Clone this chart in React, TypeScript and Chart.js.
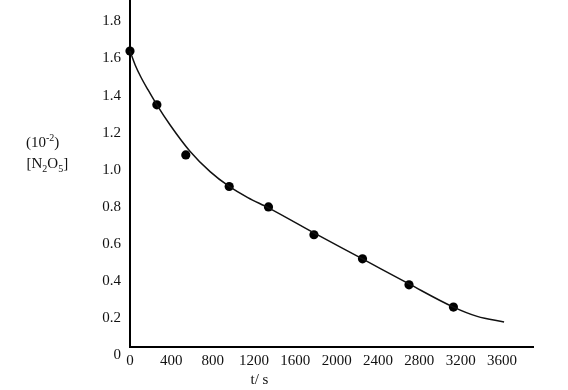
import React, { useEffect, useRef } from 'react';
import { Chart, registerables } from 'chart.js';

Chart.register(...registerables);

// Tick values and labels
const timeTicks = [0, 400, 800, 1200, 1600, 2000, 2400, 2800, 3200, 3600];
const timeTickLabels = ['0', '400', '800', '1200', '1600', '2000', '2400', '2800', '3200', '3600'];
const concTicks = [0, 0.2, 0.4, 0.6, 0.8, 1.0, 1.2, 1.4, 1.6, 1.8];
const concTickLabels = ['0', '0.2', '0.4', '0.6', '0.8', '1.0', '1.2', '1.4', '1.6', '1.8'];

// Measured points: t (s) and [N2O5] (10^-2 mol/L)
const measuredTime = [0, 260, 540, 960, 1340, 1780, 2250, 2700, 3130];
const measuredConc = [1.64, 1.35, 1.08, 0.91, 0.8, 0.65, 0.52, 0.38, 0.26];

// Smooth fitted curve
const curveTime = [0, 50, 105, 175, 260, 390, 580, 775, 960, 1140, 1340, 1780, 2250, 2700, 3130, 3360, 3620];
const curveConc = [1.64, 1.565, 1.5, 1.43, 1.35, 1.24, 1.1, 0.99, 0.91, 0.85, 0.795, 0.66, 0.52, 0.385, 0.26, 0.21, 0.18];

const FONT = '"Liberation Serif", "Times New Roman", serif';

const textPlugin = {
  id: 'axisTexts',
  afterDraw(chart: any) {
    const ctx = chart.ctx as CanvasRenderingContext2D;
    ctx.save();
    ctx.fillStyle = '#111';
    ctx.textBaseline = 'alphabetic';
    ctx.textAlign = 'left';
    const big = `15px ${FONT}`;
    const small = `10px ${FONT}`;
    const run = (parts: [string, string, number][], x: number, y: number) => {
      let cx = x;
      for (const [txt, kind, dy] of parts) {
        ctx.font = kind === 'b' ? big : small;
        ctx.fillText(txt, cx, y + dy);
        cx += ctx.measureText(txt).width;
      }
    };
    run([['(10', 'b', 0], ['-2', 's', -6], [')', 'b', 0]], 26, 146.5);
    run([['[N', 'b', 0], ['2', 's', 4], ['O', 'b', 0], ['5', 's', 4], [']', 'b', 0]], 26.5, 168);
    ctx.font = big;
    ctx.textAlign = 'center';
    ctx.fillText('t/ s', 259.5, 384);
    ctx.restore();
  },
};

export default function App() {
  const ref = useRef<HTMLCanvasElement | null>(null);

  useEffect(() => {
    document.body.style.margin = '0';
    if (!ref.current) return;
    Chart.defaults.font.family = FONT;
    const chart = new Chart(ref.current, {
      type: 'scatter',
      data: {
        datasets: [
          {
            label: 'curve',
            data: curveTime.map((t, i) => ({ x: t, y: curveConc[i] })),
            showLine: true,
            borderColor: '#111',
            borderWidth: 1.5,
            pointRadius: 0,
            cubicInterpolationMode: 'monotone',
            clip: false,
          } as any,
          {
            label: 'measured',
            data: measuredTime.map((t, i) => ({ x: t, y: measuredConc[i] })),
            showLine: false,
            pointRadius: 4.6,
            pointBackgroundColor: '#000',
            pointBorderColor: '#000',
            pointBorderWidth: 0,
            clip: false,
          } as any,
        ],
      },
      options: {
        animation: false,
        responsive: false,
        layout: { autoPadding: false, padding: { left: 0, top: 0, right: 35, bottom: 0 } },
        plugins: {
          legend: { display: false },
          tooltip: { enabled: false },
          title: { display: false },
        },
        scales: {
          x: {
            type: 'linear',
            min: 0,
            max: 3900,
            grid: { display: false, drawTicks: false },
            border: { display: true, color: '#000', width: 2 },
            afterBuildTicks: (axis: any) => {
              axis.ticks = timeTicks.map((value) => ({ value }));
            },
            afterFit: (s: any) => {
              s.height = 43;
              s.paddingLeft = 0;
              s.paddingRight = 0;
            },
            ticks: {
              autoSkip: false,
              maxRotation: 0,
              padding: 5,
              color: '#111',
              font: { size: 15, family: FONT },
              callback: (_v: any, i: number) => timeTickLabels[i],
            },
          },
          y: {
            type: 'linear',
            min: 0.045,
            max: 1.915,
            grid: { display: false, drawTicks: false },
            border: { display: true, color: '#000', width: 2 },
            afterBuildTicks: (axis: any) => {
              axis.ticks = concTicks.map((value) => ({ value }));
            },
            afterFit: (s: any) => {
              s.width = 130;
              s.paddingTop = 0;
              s.paddingBottom = 0;
            },
            ticks: {
              autoSkip: false,
              padding: 9,
              color: '#111',
              font: { size: 15, family: FONT },
              callback: (_v: any, i: number) => concTickLabels[i],
            },
          },
        },
      } as any,
      plugins: [textPlugin],
    });
    return () => chart.destroy();
  }, []);

  return (
    <div style={{ position: 'absolute', left: 0, top: 0, width: 568, height: 390 }}>
      <canvas ref={ref} width={568} height={390} style={{ display: 'block' }} />
    </div>
  );
}
